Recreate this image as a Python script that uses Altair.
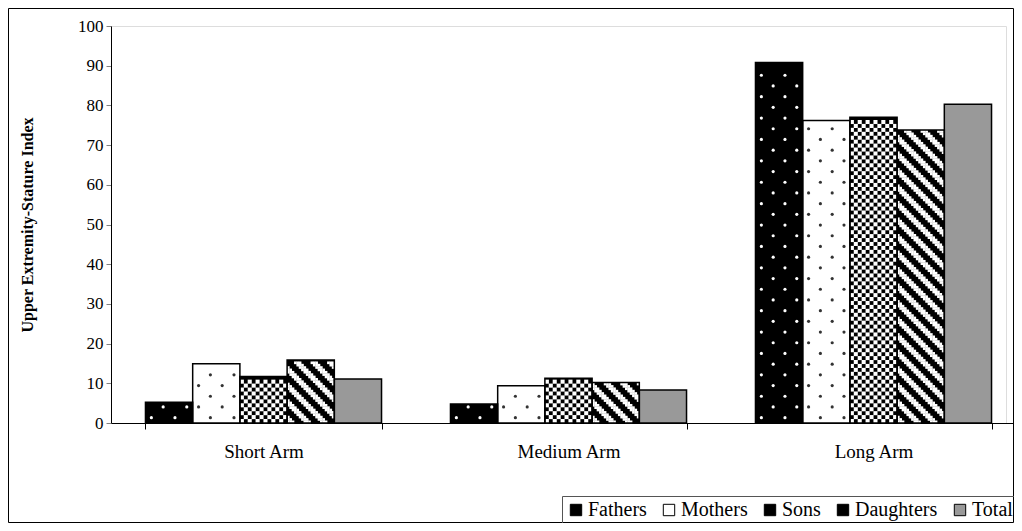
import altair as alt
import pandas as pd

# ---------------- data ----------------
categories = ["Short Arm", "Medium Arm", "Long Arm"]
series = ["Fathers", "Mothers", "Sons", "Daughters", "Total"]
fathers = [5.2, 4.8, 90.8]
mothers = [14.9, 9.4, 76.2]
sons = [11.7, 11.3, 77.0]
daughters = [15.9, 10.2, 73.8]
total = [11.1, 8.3, 80.3]
y_ticks = [0, 10, 20, 30, 40, 50, 60, 70, 80, 90, 100]
y_title = "Upper Extremity-Stature Index"

values = {"Fathers": fathers, "Mothers": mothers, "Sons": sons,
          "Daughters": daughters, "Total": total}
df = pd.DataFrame([
    {"category": c, "series": s, "value": values[s][i]}
    for i, c in enumerate(categories) for s in series
])

# ---------------- layout / style constants ----------------
FONT = "Liberation Serif"
PLOT_W = 895            # visible plot width
RANGE_W = 915           # full band range (plot is cropped on the right, like the original)
PLOT_H = 397
PAD_IN = 0.226
STEP = RANGE_W / 3
BAR_W = STEP * (1 - PAD_IN) / 5
PX_PER_UNIT = PLOT_H / 100.0

fill_colors = ["#000000", "#ffffff", "#000000", "#000000", "#999999"]


def pattern(name, ncols, row_px, keep, full=True):
    """Texture cells inside each bar of a series (derived from the bar values)."""
    k = series.index(name)
    dy = row_px / PX_PER_UNIT
    out = []
    for i, c in enumerate(categories):
        v = values[name][i]
        r = 0
        while True:
            top = (r + 1) * dy if full else (r + 0.5) * dy + 0.6
            if top > v:
                break
            for col in range(ncols):
                if keep(col, r):
                    out.append({"category": c, "sub": k * ncols + col,
                                "y": (r + 0.5) * dy})
            r += 1
    return pd.DataFrame(out), list(range(5 * ncols))


x_scale = alt.Scale(range=[0, RANGE_W], paddingInner=PAD_IN, paddingOuter=PAD_IN / 2)
y_scale = alt.Scale(domain=[0, 100], nice=False)

x_axis = alt.Axis(title=None, labelAngle=0, tickBand="extent", tickSize=6,
                  tickColor="black", domainColor="black", labelColor="black",
                  labelFont=FONT, labelFontSize=19, labelPadding=13, grid=False)
y_axis = alt.Axis(title=y_title, values=y_ticks, tickSize=5, tickColor="#808080",
                  domainColor="black", labelColor="black", labelFont=FONT,
                  labelFontSize=17, labelPadding=3, grid=False,
                  titleFont=FONT, titleFontSize=16, titleFontWeight="bold",
                  titleColor="black", titlePadding=42)


def xenc():
    return alt.X("category:N", sort=categories, scale=x_scale, axis=x_axis)


def yenc(field):
    return alt.Y(field + ":Q", scale=y_scale, axis=y_axis)


bars = alt.Chart(df).mark_bar().encode(
    x=xenc(),
    xOffset=alt.XOffset("series:N", sort=series,
                        scale=alt.Scale(paddingInner=0, paddingOuter=0)),
    y=yenc("value"),
    color=alt.Color("series:N", sort=series,
                    scale=alt.Scale(domain=series, range=fill_colors),
                    legend=alt.Legend(title=None, orient="none", legendX=451, legendY=470,
                                      direction="horizontal", columns=5,
                                      symbolType="square", symbolSize=130,
                                      symbolStrokeColor="black", symbolStrokeWidth=1,
                                      strokeColor="#555555", padding=4,
                                      labelFont=FONT, labelFontSize=20,
                                      labelColor="black", labelOffset=2,
                                      columnPadding=12)),
)


def texture(name, ncols, row_px, keep, color, shape, size, full=True):
    data, dom = pattern(name, ncols, row_px, keep, full)
    return alt.Chart(data).mark_point(filled=True, shape=shape, size=size,
                                      color=color, opacity=1, strokeWidth=0).encode(
        x=xenc(),
        xOffset=alt.XOffset("sub:O", scale=alt.Scale(type="point", domain=dom, padding=0.5)),
        y=yenc("y"),
    )


dot_row = 10.7
fathers_dots = texture("Fathers", 4, dot_row, lambda c, r: (c + r) % 2 == 0,
                       "white", "circle", 10, full=False)
mothers_dots = texture("Mothers", 4, dot_row, lambda c, r: (c + r) % 2 == 1,
                       "#333333", "circle", 10, full=False)
cell_s = BAR_W / 12
sons_checks = texture("Sons", 12, cell_s, lambda c, r: (c + r) % 2 == 0,
                      "white", "square", (cell_s + 0.15) ** 2)
cell_d = BAR_W / 20
daughter_stripes = texture("Daughters", 20, cell_d, lambda c, r: (c + r) % 7 < 3,
                           "white", "square", (cell_d + 0.3) ** 2)

outline = alt.Chart(df).mark_bar(fill="transparent", stroke="black", strokeWidth=1.5).encode(
    x=xenc(),
    xOffset=alt.XOffset("series:N", sort=series,
                        scale=alt.Scale(paddingInner=0, paddingOuter=0)),
    y=yenc("value"),
)

border = alt.Chart(pd.DataFrame({"b": [0]})).mark_rect(
    fill="transparent", stroke="black", strokeWidth=1).encode(
    x=alt.value(-102.5), x2=alt.value(902.5), y=alt.value(-17.5), y2=alt.value(496.5))

chart = alt.layer(bars, fathers_dots, mothers_dots, sons_checks, daughter_stripes,
                  outline, border).resolve_scale(xOffset="independent").properties(
    width=PLOT_W, height=PLOT_H,
    autosize=alt.AutoSizeParams(type="none"),
    padding={"left": 103, "top": 18, "right": 8, "bottom": 100},
).configure_view(stroke="transparent", strokeWidth=0).configure(font=FONT, background="white")

chart.save("out.html", embed_options={"renderer": "svg", "actions": False})
